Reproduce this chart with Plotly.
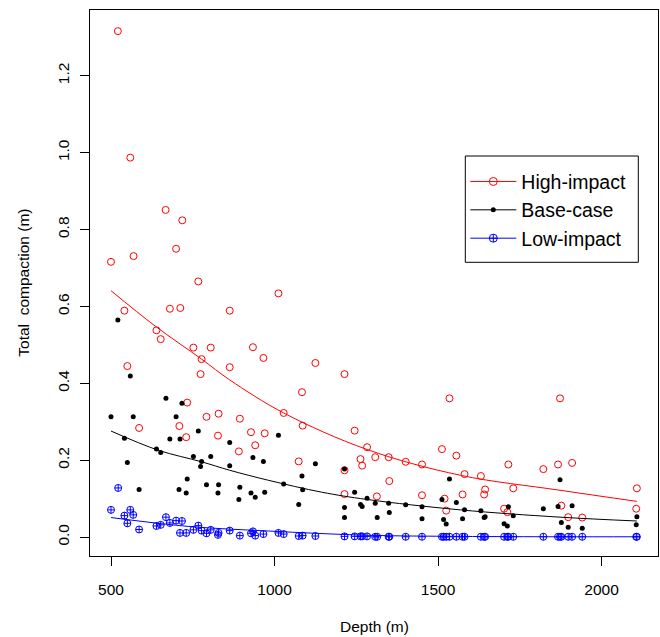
import plotly.graph_objects as go

# ---- data ----
high_depth = [500, 521, 541, 550, 559, 569, 586, 639, 652, 667, 680, 699, 709, 712, 718, 730, 733,
              752, 767, 774, 777, 792, 805, 827, 829, 863, 863, 891, 894, 928, 934, 941, 966, 970,
              1012, 1028, 1074, 1084, 1086, 1125, 1214, 1214, 1214, 1245, 1263, 1268, 1283, 1308,
              1313, 1349, 1351, 1401, 1451, 1451, 1512, 1520, 1525, 1535, 1556, 1575, 1581, 1631,
              1641, 1644, 1702, 1712, 1715, 1730, 1822, 1867, 1873, 1877, 1898, 1910, 1941, 2106, 2108]
high_val = [0.716, 1.316, 0.589, 0.445, 0.987, 0.731, 0.284, 0.538, 0.515, 0.851, 0.594, 0.750, 0.289,
            0.596, 0.824, 0.260, 0.350, 0.493, 0.665, 0.424, 0.463, 0.313, 0.493, 0.264, 0.321, 0.589,
            0.442, 0.223, 0.308, 0.273, 0.494, 0.239, 0.466, 0.270, 0.634, 0.323, 0.197, 0.377, 0.290,
            0.453, 0.424, 0.174, 0.112, 0.277, 0.203, 0.186, 0.234, 0.208, 0.106, 0.208, 0.146, 0.196,
            0.189, 0.109, 0.229, 0.100, 0.069, 0.361, 0.212, 0.111, 0.164, 0.159, 0.111, 0.124, 0.074,
            0.065, 0.189, 0.127, 0.177, 0.189, 0.361, 0.082, 0.052, 0.193, 0.051, 0.074, 0.127]

base_depth = [500, 521, 541, 550, 559, 568, 586, 639, 652, 668, 680, 699, 708, 711, 717, 730, 733,
              752, 767, 774, 777, 792, 805, 827, 829, 863, 863, 891, 894, 928, 934, 941, 966, 970,
              1012, 1028, 1074, 1084, 1086, 1125, 1214, 1214, 1214, 1245, 1263, 1268, 1283, 1308,
              1314, 1349, 1351, 1401, 1451, 1451, 1512, 1517, 1525, 1535, 1556, 1575, 1581, 1631,
              1641, 1644, 1702, 1712, 1715, 1730, 1822, 1867, 1873, 1877, 1898, 1910, 1941, 2106, 2108]
base_val = [0.313, 0.565, 0.257, 0.194, 0.419, 0.313, 0.124, 0.229, 0.220, 0.361, 0.255, 0.313, 0.124,
            0.255, 0.348, 0.115, 0.151, 0.210, 0.276, 0.184, 0.197, 0.136, 0.210, 0.115, 0.136, 0.246,
            0.186, 0.098, 0.130, 0.115, 0.207, 0.104, 0.197, 0.117, 0.265, 0.138, 0.085, 0.159, 0.123,
            0.191, 0.177, 0.077, 0.051, 0.117, 0.085, 0.080, 0.101, 0.088, 0.051, 0.088, 0.064, 0.084,
            0.079, 0.048, 0.098, 0.046, 0.034, 0.151, 0.090, 0.048, 0.071, 0.069, 0.051, 0.053, 0.035,
            0.029, 0.079, 0.056, 0.074, 0.080, 0.149, 0.038, 0.026, 0.082, 0.023, 0.032, 0.053]

low_depth = [500, 522, 541, 550, 559, 568, 586, 639, 652, 668, 680, 699, 711, 717, 730, 752, 767,
             777, 792, 805, 827, 829, 863, 894, 928, 934, 941, 966, 1012, 1028, 1074, 1086, 1125,
             1214, 1245, 1263, 1268, 1283, 1308, 1314, 1349, 1351, 1401, 1451, 1512, 1517, 1525,
             1535, 1556, 1575, 1581, 1631, 1641, 1644, 1702, 1712, 1715, 1730, 1822, 1867, 1873,
             1877, 1898, 1910, 1941, 2106, 2108]
low_val = [0.071, 0.128, 0.056, 0.036, 0.071, 0.058, 0.020, 0.029, 0.032, 0.052, 0.037, 0.043, 0.011,
           0.042, 0.011, 0.019, 0.030, 0.017, 0.010, 0.019, 0.006, 0.011, 0.017, 0.004, 0.010, 0.015,
           0.004, 0.008, 0.011, 0.008, 0.003, 0.004, 0.003, 0.002, 0.002, 0.002, 0.002, 0.002, 0.001,
           0.001, 0.001, 0.001, 0.001, 0.001, 0.001, 0.001, 0.001, 0.001, 0.001, 0.001, 0.001, 0.001,
           0.001, 0.001, 0.001, 0.001, 0.001, 0.001, 0.001, 0.001, 0.001, 0.001, 0.001, 0.001, 0.001,
           0.001, 0.001]

# fitted trend curves
high_fit_depth = [500, 635, 777, 863, 1028, 1283, 1568, 1873, 2108]
high_fit_val = [0.641, 0.549, 0.463, 0.409, 0.323, 0.228, 0.161, 0.122, 0.093]
base_fit_depth = [500, 645, 777, 863, 981, 1144, 1283, 1568, 1873, 2108]
base_fit_val = [0.276, 0.226, 0.196, 0.174, 0.148, 0.117, 0.098, 0.071, 0.052, 0.042]
low_fit_depth = [500, 736, 981, 1283, 1568, 1873, 2108]
low_fit_val = [0.051, 0.028, 0.016, 0.005, 0.002, 0.001, 0.001]

x_ticks = [500, 1000, 1500, 2000]
y_ticks = [0.0, 0.2, 0.4, 0.6, 0.8, 1.0, 1.2]
y_tick_labels = ["0.0", "0.2", "0.4", "0.6", "0.8", "1.0", "1.2"]

RED, BLACK, BLUE = "#FF0000", "#000000", "#0000FF"
FONT = "Liberation Sans, Arial, sans-serif"

# layout geometry (pixels)
W, H = 660, 637
ML, MR, MT, MB = 90, 2, 10, 81
PW, PH = W - ML - MR, H - MT - MB


def px_x(px):
    return (px - ML) / PW


def px_y(py):
    return 1 - (py - MT) / PH


fig = go.Figure()

# legend entries (line + marker, as in the original legend)
legend_specs = [
    ("High-impact", RED, dict(symbol="circle-open", size=8, color=RED, line=dict(width=1, color=RED))),
    ("Base-case", BLACK, dict(symbol="circle", size=5, color=BLACK)),
    ("Low-impact", BLUE, dict(symbol="circle-cross-open", size=8, color=BLUE, line=dict(width=1, color=BLUE))),
]
for name, col, mk in legend_specs:
    fig.add_trace(go.Scatter(x=[None], y=[None], mode="lines+markers", name=name,
                             line=dict(color=col, width=1), marker=mk, showlegend=True))

# scatter points
fig.add_trace(go.Scatter(x=high_depth, y=high_val, mode="markers", showlegend=False,
                         marker=dict(symbol="circle-open", size=7, color=RED, line=dict(width=1, color=RED))))
fig.add_trace(go.Scatter(x=base_depth, y=base_val, mode="markers", showlegend=False,
                         marker=dict(symbol="circle", size=5, color=BLACK)))
fig.add_trace(go.Scatter(x=low_depth, y=low_val, mode="markers", showlegend=False,
                         marker=dict(symbol="circle-cross-open", size=7, color=BLUE, line=dict(width=1, color=BLUE))))

# trend lines
fig.add_trace(go.Scatter(x=high_fit_depth, y=high_fit_val, mode="lines", showlegend=False,
                         line=dict(color=RED, width=1, shape="spline")))
fig.add_trace(go.Scatter(x=base_fit_depth, y=base_fit_val, mode="lines", showlegend=False,
                         line=dict(color=BLACK, width=1, shape="spline")))
fig.add_trace(go.Scatter(x=low_fit_depth, y=low_fit_val, mode="lines", showlegend=False,
                         line=dict(color=BLUE, width=1, shape="spline")))

# legend frame
fig.add_shape(type="rect", xref="paper", yref="paper",
              x0=px_x(465.3), x1=px_x(638.3), y0=px_y(262.3), y1=px_y(156),
              line=dict(color="black", width=1), fillcolor="white", layer="above")

fig.update_layout(
    width=W, height=H,
    margin=dict(l=ML, r=MR, t=MT, b=MB),
    plot_bgcolor="white", paper_bgcolor="white",
    font=dict(family=FONT, size=15.5, color="black"),
    legend=dict(x=px_x(465.3), y=px_y(162.3), xanchor="left", yanchor="top",
                borderwidth=0, bgcolor="rgba(0,0,0,0)", itemwidth=46,
                font=dict(size=19.5, color="black"), traceorder="normal"),
    annotations=[
        dict(text="Depth (m)", xref="paper", yref="paper", x=px_x((ML + W - MR) / 2), y=px_y(626.7),
             xanchor="center", yanchor="middle", showarrow=False, font=dict(size=15.5)),
        dict(text="Total\u00a0 compaction (m)", xref="paper", yref="paper", x=px_x(22.7),
             y=px_y((MT + H - MB) / 2), xanchor="center", yanchor="middle", textangle=-90,
             showarrow=False, font=dict(size=15.5)),
    ],
)
fig.update_xaxes(range=[435.8, 2172.6], tickvals=x_ticks, ticks="outside", ticklen=9,
                 tickcolor="black", showline=True, mirror=True, linecolor="black", linewidth=1,
                 showgrid=False, zeroline=False, automargin=False, ticklabelstandoff=10)
fig.update_yaxes(range=[-0.049, 1.371], tickvals=y_ticks, ticktext=y_tick_labels, tickangle=-90,
                 ticks="outside", ticklen=9, tickcolor="black", showline=True, mirror=True,
                 linecolor="black", linewidth=1, showgrid=False, zeroline=False, automargin=False,
                 ticklabelstandoff=5)

fig.write_html("out.html", config={"displayModeBar": False},
               post_script="document.body.style.margin='0px';document.body.style.overflow='hidden';")
